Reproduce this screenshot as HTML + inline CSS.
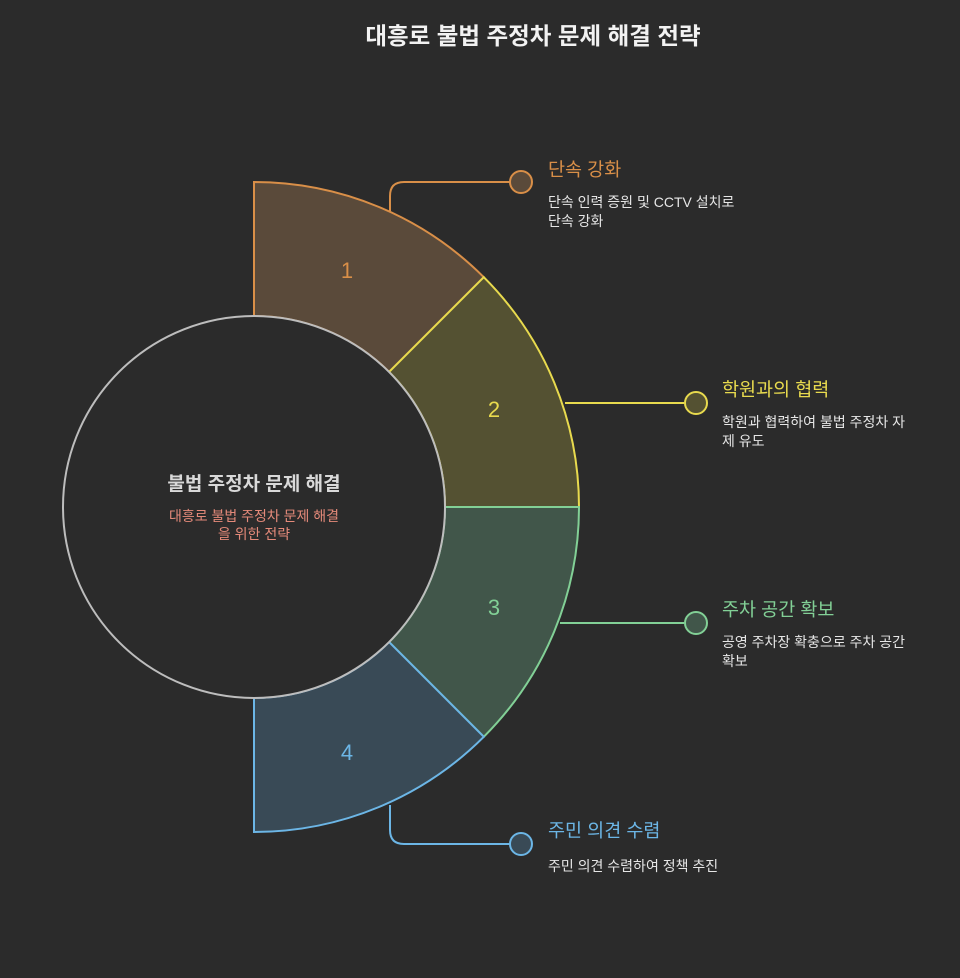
<!DOCTYPE html>
<html><head><meta charset="utf-8"><style>
html,body{margin:0;padding:0;background:#2b2b2b;}
body{width:960px;height:973px;overflow:hidden;}
svg text{font-family:"Liberation Sans","Noto Sans CJK KR",sans-serif;}
</style></head><body>
<svg width="960" height="973" viewBox="0 0 960 973" xmlns="http://www.w3.org/2000/svg">
<rect width="960" height="973" fill="#2b2b2b"/>
<text x="533" y="44" text-anchor="middle" font-size="23.5" font-weight="bold" fill="#f2f2f2">대흥로 불법 주정차 문제 해결 전략</text>

<path d="M254,182 A325,325 0 0 1 483.8,277.2 L389.1,371.9 A191,191 0 0 0 254,316 Z" fill="#5a4a3a" stroke="#d98f48" stroke-width="2"/>
<path d="M483.8,277.2 A325,325 0 0 1 579,507 L445,507 A191,191 0 0 0 389.1,371.9 Z" fill="#545132" stroke="#e8da4e" stroke-width="2"/>
<path d="M579,507 A325,325 0 0 1 483.8,736.8 L389.1,642.1 A191,191 0 0 0 445,507 Z" fill="#41564a" stroke="#82d096" stroke-width="2"/>
<path d="M483.8,736.8 A325,325 0 0 1 254,832 L254,698 A191,191 0 0 0 389.1,642.1 Z" fill="#394a56" stroke="#6cb6e6" stroke-width="2"/>
<circle cx="254" cy="507" r="191" fill="#2b2b2b" stroke="#bdbdbd" stroke-width="2"/>

<g font-size="22" text-anchor="middle">
<text x="347" y="278" fill="#d98f48">1</text>
<text x="494" y="417" fill="#e8da4e">2</text>
<text x="494" y="615" fill="#82d096">3</text>
<text x="347" y="760" fill="#6cb6e6">4</text>
</g>

<text x="254" y="490" text-anchor="middle" font-size="19" font-weight="bold" fill="#d9d9d9">불법 주정차 문제 해결</text>
<text x="254" y="521" text-anchor="middle" font-size="14" fill="#e58a7a">대흥로 불법 주정차 문제 해결</text>
<text x="254" y="539" text-anchor="middle" font-size="14" fill="#e58a7a">을 위한 전략</text>

<g fill="none" stroke-width="2">
<path d="M390,211 L390,196 Q390,182 404,182 L510,182" stroke="#d98f48"/>
<path d="M565,403 L684,403" stroke="#e8da4e"/>
<path d="M560,623 L684,623" stroke="#82d096"/>
<path d="M390,805 L390,830 Q390,844 404,844 L510,844" stroke="#6cb6e6"/>
</g>
<circle cx="521" cy="182" r="11" fill="#5a4a3a" stroke="#d98f48" stroke-width="2"/>
<circle cx="696" cy="403" r="11" fill="#545132" stroke="#e8da4e" stroke-width="2"/>
<circle cx="696" cy="623" r="11" fill="#41564a" stroke="#82d096" stroke-width="2"/>
<circle cx="521" cy="844" r="11" fill="#394a56" stroke="#6cb6e6" stroke-width="2"/>

<text x="548" y="176" font-size="18.5" fill="#d98f48">단속 강화</text>
<text x="548" y="207" font-size="14" fill="#e6e6e6">단속 인력 증원 및 CCTV 설치로</text>
<text x="548" y="226" font-size="14" fill="#e6e6e6">단속 강화</text>

<text x="722" y="396" font-size="18.5" fill="#e8da4e">학원과의 협력</text>
<text x="722" y="427" font-size="14" fill="#e6e6e6">학원과 협력하여 불법 주정차 자</text>
<text x="722" y="446" font-size="14" fill="#e6e6e6">제 유도</text>

<text x="722" y="616" font-size="18.5" fill="#82d096">주차 공간 확보</text>
<text x="722" y="647" font-size="14" fill="#e6e6e6">공영 주차장 확충으로 주차 공간</text>
<text x="722" y="666" font-size="14" fill="#e6e6e6">확보</text>

<text x="548" y="837" font-size="18.5" fill="#6cb6e6">주민 의견 수렴</text>
<text x="548" y="871" font-size="14" fill="#e6e6e6">주민 의견 수렴하여 정책 추진</text>
</svg>
</body></html>
